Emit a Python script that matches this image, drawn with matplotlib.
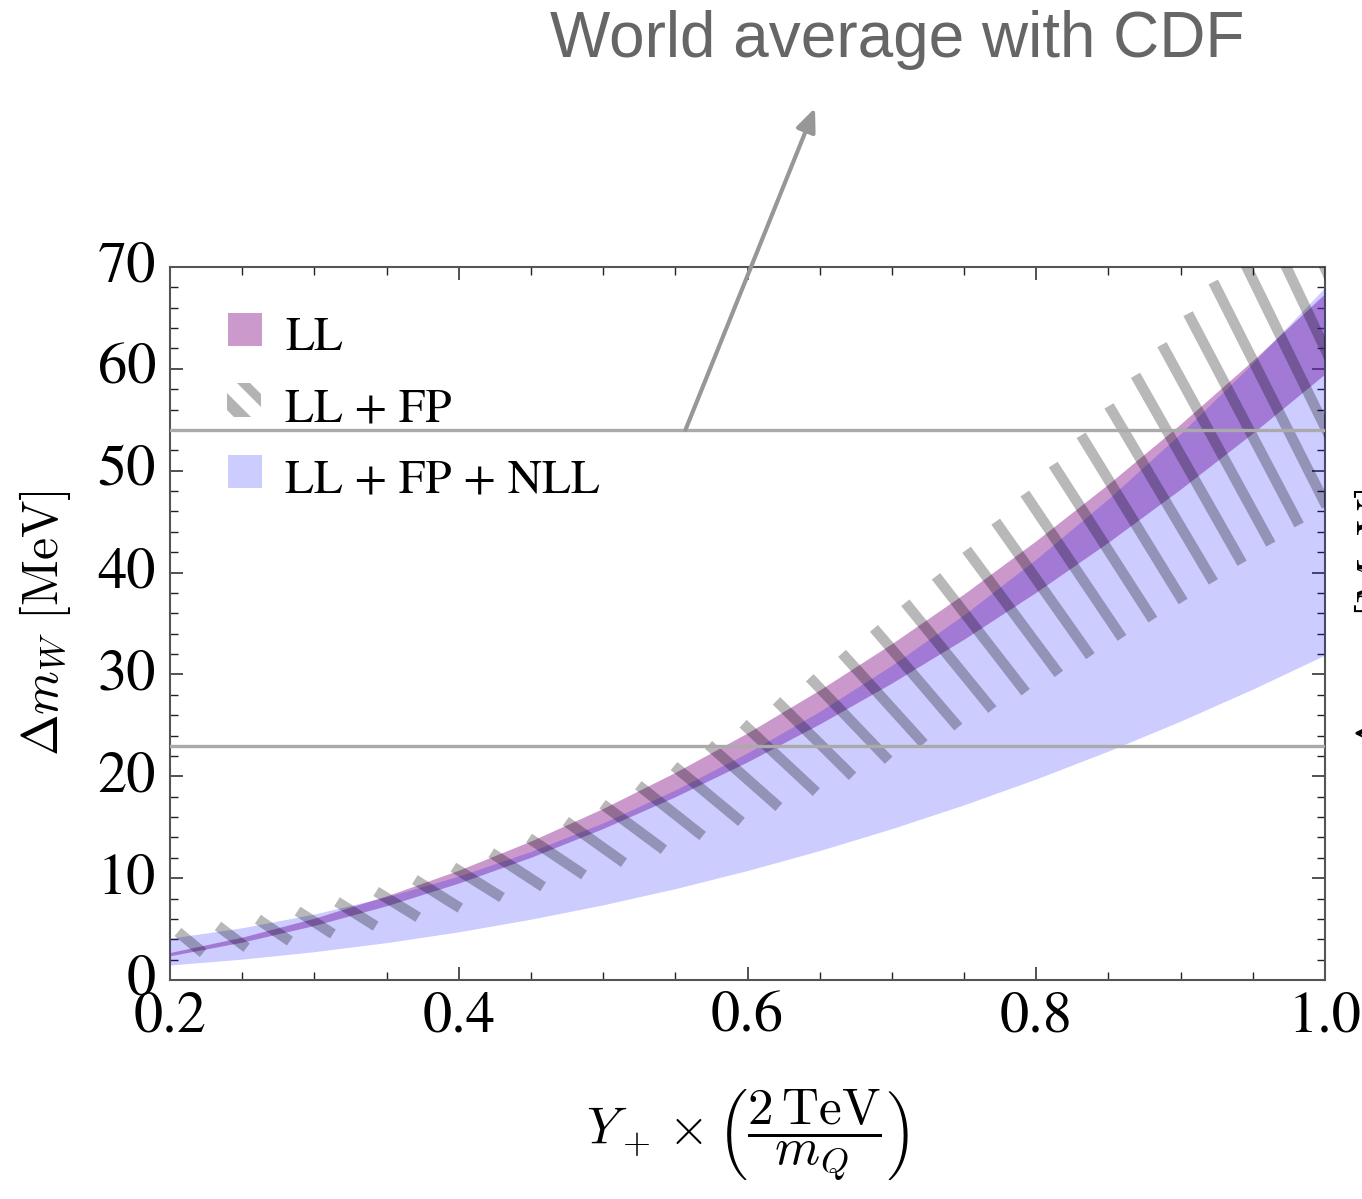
import matplotlib
matplotlib.use("Agg")
import matplotlib.pyplot as plt
import numpy as np
from matplotlib.patches import Rectangle, Polygon
from matplotlib.transforms import ScaledTranslation

# band data (x = Y+ * 2TeV/mQ, y = Delta m_W in MeV)
x = [0.2, 0.25, 0.3, 0.35, 0.4, 0.45, 0.5, 0.55, 0.6, 0.65, 0.7, 0.75, 0.8, 0.85, 0.9, 0.95, 1.0]
ll_lo = [2.38, 3.72, 5.36, 7.29, 9.52, 12.05, 14.88, 18.0, 21.42, 25.14, 29.16, 33.47, 38.08, 42.99, 48.2, 53.7, 59.5]
ll_hi = [2.70, 4.21, 6.07, 8.26, 10.78, 13.65, 16.85, 20.39, 24.26, 28.48, 33.03, 37.91, 43.14, 48.70, 54.59, 60.83, 67.4]
nll_lo = [1.47, 2.05, 2.78, 3.67, 4.73, 5.97, 7.38, 8.97, 10.75, 12.71, 14.86, 17.2, 19.74, 22.48, 25.42, 28.56, 31.9]
nll_hi = [4.10, 5.13, 6.48, 8.16, 10.20, 12.62, 15.43, 18.66, 22.30, 26.37, 30.90, 35.87, 41.33, 47.25, 53.66, 60.58, 68.0]

# LL + FP band (hatched), runs past the frame on the right
x_fp = [0.2, 0.25, 0.3, 0.35, 0.4, 0.45, 0.5, 0.55, 0.6, 0.65, 0.7, 0.75, 0.8, 0.85, 0.9, 0.95, 1.0, 1.05, 1.1]
fp_hi = [4.6, 5.66, 7.10, 8.96, 11.24, 14.0, 17.28, 21.07, 25.43, 30.35, 35.9, 42.0, 48.85, 56.3, 64.5, 73.4, 83.0, 93.3, 104.4]
fp_lo = [2.28, 3.11, 4.18, 5.48, 7.02, 8.81, 10.85, 13.16, 15.74, 18.58, 21.71, 25.1, 28.8, 32.8, 37.0, 41.6, 46.4, 51.6, 57.0]

cdf_lines = [54.0, 23.0]
arrow_x = 0.557

xticks = [0.2, 0.4, 0.6, 0.8, 1.0]
xtick_labels = ["0.2", "0.4", "0.6", "0.8", "1.0"]
yticks = [0, 10, 20, 30, 40, 50, 60, 70]

W, H = 1362, 1199
plt.rcParams['font.family'] = ['STIXGeneral', 'DejaVu Serif']
plt.rcParams['mathtext.fontset'] = 'cm'

fig = plt.figure(figsize=(W / 100, H / 100), dpi=100)
ax = fig.add_axes([170 / W, 1 - 980 / H, 1155 / W, 713 / H])
ax.set_xlim(0.2, 1.0)
ax.set_ylim(0, 70)


def fpx(px, py):
    return px / W, 1 - py / H


ax.fill_between(x, ll_lo, ll_hi, color='#993399', alpha=0.5, lw=0, zorder=2)
ax.fill_between(x, nll_lo, nll_hi, color='#0000ff', alpha=0.2, lw=0, zorder=3)

# hatch stripes of the LL + FP band: evenly spaced (in pixels) along the upper edge
xx = np.linspace(0.2055, 1.05, 4000)
pts = ax.transData.transform(np.column_stack([xx, np.interp(xx, x_fp, fp_hi)]))
arc = np.concatenate([[0], np.cumsum(np.hypot(*np.diff(pts, axis=0).T))])
x_top = np.interp(np.arange(0, arc[-1], 40.5), arc, xx)
for xs in x_top[x_top < 1.0]:
    xe = xs * 1.085
    ax.plot([xs, xe], [np.interp(xs, x_fp, fp_hi), np.interp(xe, x_fp, fp_lo)],
            color='black', alpha=0.28, lw=7.6, solid_capstyle='butt', zorder=4)

for yv in cdf_lines:
    ax.axhline(yv, color='#aaaaaa', lw=2.4, zorder=5)

ax.annotate('', xy=fpx(815, 108), xycoords='figure fraction',
            xytext=(arrow_x, cdf_lines[0]), textcoords='data',
            arrowprops=dict(arrowstyle='-|>,head_length=1.4,head_width=0.6',
                            color='#979797', lw=3, shrinkA=0, shrinkB=0),
            zorder=6)
fig.text(*fpx(897, 40), 'World average with CDF', fontsize=46, color='#666666',
         family='Liberation Sans', ha='center', va='center')

ax.set_xticks(xticks)
ax.set_xticklabels(xtick_labels)
ax.set_yticks(yticks)
ax.set_xticks(np.arange(0.2, 1.0001, 0.05), minor=True)
ax.set_yticks(np.arange(0, 70.001, 2), minor=True)
ax.tick_params(which='both', direction='in', top=True, right=True, labelsize=42, color='#222222')
ax.tick_params(which='major', length=9.5, width=1.1)
ax.tick_params(which='minor', length=5.5, width=1.0)
ax.tick_params(axis='x', pad=8)
ax.tick_params(axis='y', pad=10)
for lab in ax.get_yticklabels():
    lab.set_transform(lab.get_transform() + ScaledTranslation(0, 0.05, fig.dpi_scale_trans))
for s in ax.spines.values():
    s.set_color('#555555')
    s.set_linewidth(1.5)

ax.set_ylabel(r'$\Delta m_W\ [\mathrm{MeV}]$', fontsize=36)
ax.yaxis.set_label_coords(-0.108, 0.5)
ax.yaxis.label.set_va('center')
ax.set_xlabel(r'$Y_+\times\left(\dfrac{2\,\mathrm{TeV}}{m_Q}\right)$', fontsize=37)
ax.xaxis.set_label_coords(0.5, -0.217)
ax.xaxis.label.set_va('center')

# cut-off label of the neighbouring panel
fig.text(1352 / W, 1 - 621 / H, r'$\Delta m_W\ [\mathrm{MeV}]$', fontsize=36,
         rotation=90, ha='left', va='center')

# legend drawn by hand
fig.patches.append(Rectangle(fpx(228, 346), 34 / W, 33 / H, transform=fig.transFigure,
                             color='#cc99cc', lw=0))
fig.patches.append(Rectangle(fpx(228, 488), 34 / W, 33 / H, transform=fig.transFigure,
                             color='#ccccff', lw=0))
u0, v0 = 227, 383
for poly in ([(10, 0), (23, 0), (34, 11), (34, 24)], [(0, 10), (0, 27), (7, 34), (24, 34)]):
    fig.patches.append(Polygon([fpx(u0 + u, v0 + v) for u, v in poly], closed=True,
                               transform=fig.transFigure, color='#b3b3b3', lw=0))
for label, base in [('LL', 350), ('LL + FP', 421), ('LL + FP + NLL', 493)]:
    fig.text(*fpx(285, base), label, fontsize=34, ha='left', va='baseline')

fig.savefig('out.png', dpi=100)
